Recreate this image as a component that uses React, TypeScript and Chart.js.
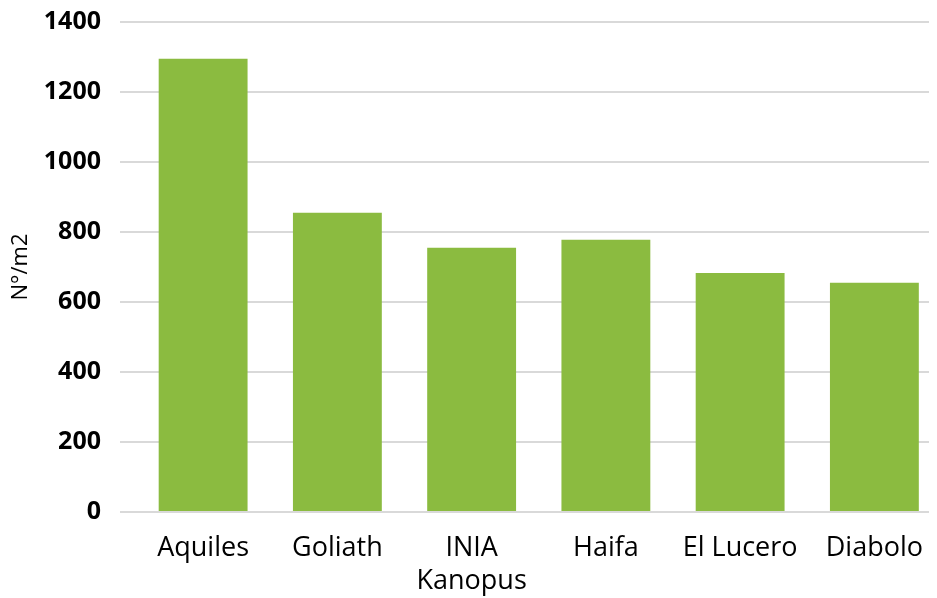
import React, { useEffect, useRef } from "react";
import { Chart, registerables } from "chart.js";

Chart.register(...registerables);

const categories: (string | string[])[] = ["Aquiles", "Goliath", ["INIA", "Kanopus"], "Haifa", "El Lucero", "Diabolo"];
const values: number[] = [1295, 855, 755, 778, 683, 655];
const yTicks: number[] = [0, 200, 400, 600, 800, 1000, 1200, 1400];
const yTitle = "N°/m2";

export default function App() {
  const ref = useRef<HTMLCanvasElement | null>(null);
  useEffect(() => {
    document.documentElement.style.overflow = "hidden";
    const canvas = ref.current;
    if (!canvas) return;
    const chart = new Chart(canvas, {
      type: "bar",
      data: {
        labels: categories,
        datasets: [
          {
            data: values,
            backgroundColor: "#8BBB40",
            borderWidth: 0,
            categoryPercentage: 1,
            barPercentage: 0.662,
          },
        ],
      },
      options: {
        animation: false,
        responsive: false,
        maintainAspectRatio: false,
        layout: { padding: { top: 14, right: 0, left: 0, bottom: 0 } },
        plugins: { legend: { display: false }, tooltip: { enabled: false } },
        scales: {
          x: {
            afterFit: (scale: any) => {
              scale.height = 86;
            },
            grid: { display: false, drawTicks: false },
            border: { display: false },
            ticks: {
              color: "#000",
              padding: 20,
              maxRotation: 0,
              autoSkip: false,
              font: { family: "'Open Sans'", size: 27, lineHeight: 1.22 },
            },
          },
          y: {
            min: 0,
            max: 1400,
            afterBuildTicks: (scale: any) => {
              scale.ticks = yTicks.map((v) => ({ value: v }));
            },
            afterFit: (scale: any) => {
              scale.width = 128;
              scale.paddingTop = 0;
              scale.paddingBottom = 0;
            },
            grid: { color: "#d9d9d9", lineWidth: 2, drawTicks: true, tickLength: 16, tickColor: "#d9d9d9" },
            border: { display: false },
            ticks: {
              color: "#000",
              padding: 19,
              callback: (v: any) => String(v),
              font: { family: "'Open Sans'", size: 25, weight: "bold", lineHeight: 1 },
            },
            title: {
              display: true,
              text: yTitle,
              color: "#000",
              padding: 0,
              font: { family: "'Open Sans'", size: 22 },
            },
          },
        },
      },
    });
    return () => chart.destroy();
  }, []);
  return (
    <div style={{ width: 929, height: 590, overflow: "hidden" }}>
      <canvas ref={ref} width={935} height={590} style={{ width: 935, height: 590, display: "block" }} />
    </div>
  );
}
